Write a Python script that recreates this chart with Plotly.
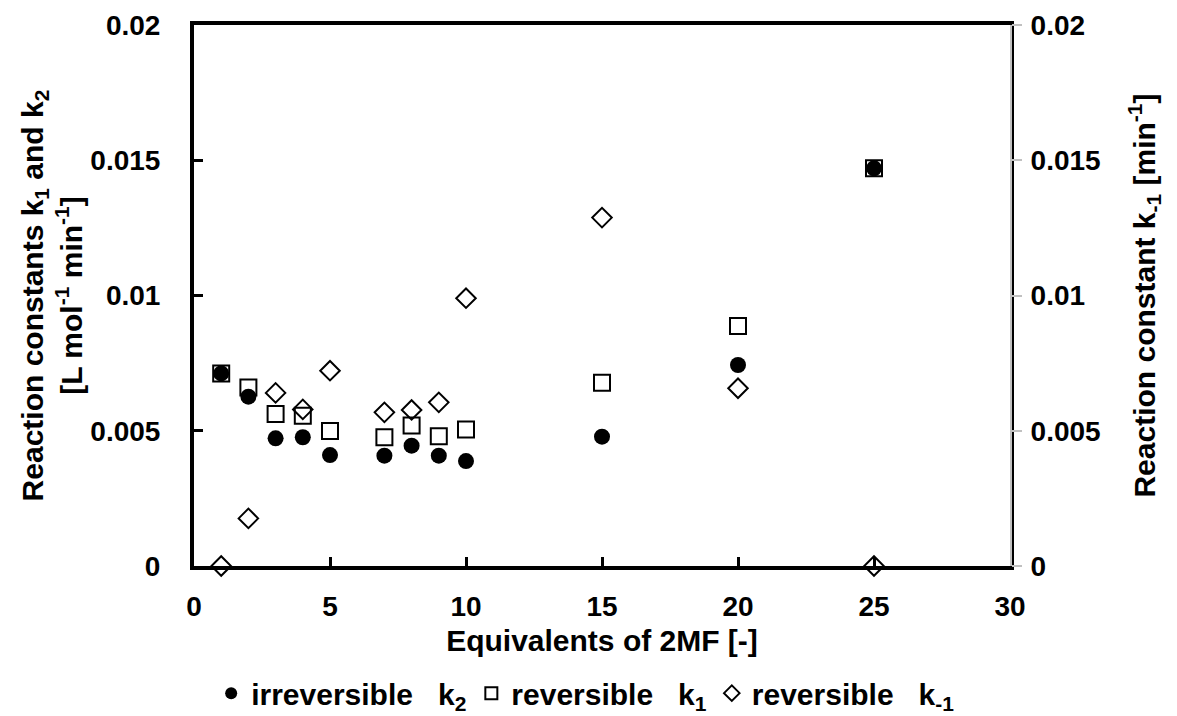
import plotly.graph_objects as go

# Equivalents of 2MF and fitted rate constants
equiv = [1, 2, 3, 4, 5, 7, 8, 9, 10, 15, 20, 25]
k2_irrev = [0.00712, 0.00626, 0.00472, 0.00476, 0.0041, 0.00408, 0.00445, 0.00408, 0.00388, 0.00478, 0.00743, 0.0147]
k1_rev = [0.00712, 0.0066, 0.00562, 0.00555, 0.00499, 0.00476, 0.00519, 0.0048, 0.00505, 0.00677, 0.00887, 0.0147]
km1_rev = [0.0, 0.00176, 0.0064, 0.00579, 0.00722, 0.00568, 0.00577, 0.00605, 0.0099, 0.01288, 0.00657, 0.0]

x_ticks = [0, 5, 10, 15, 20, 25, 30]
y_ticks = [0, 0.005, 0.01, 0.015, 0.02]
y_tick_text = ["0", "0.005", "0.01", "0.015", "0.02"]

FONT = "Liberation Sans, Arial, sans-serif"
NBSP = "\u00a0"
TICK_SIZE = 28
TITLE_SIZE = 30


def bold(s):
    return "<b>%s</b>" % s


fig = go.Figure()

# squares first so the filled circles sit on top of them
fig.add_trace(go.Scatter(
    x=equiv, y=k1_rev, mode="markers",
    name=bold("reversible" + NBSP * 3 + "k<sub>1</sub>"),
    marker=dict(symbol="square-open", size=16, color="black", line=dict(width=2, color="black")),
    legendrank=2, cliponaxis=False,
))
fig.add_trace(go.Scatter(
    x=equiv, y=k2_irrev, mode="markers",
    name=bold("irreversible" + NBSP * 3 + "k<sub>2</sub>"),
    marker=dict(symbol="circle", size=16, color="black"),
    legendrank=1, cliponaxis=False,
))
fig.add_trace(go.Scatter(
    x=equiv, y=km1_rev, mode="markers",
    name=bold("reversible" + NBSP * 3 + "k<sub>-1</sub>"),
    marker=dict(symbol="diamond-open", size=15, color="black", line=dict(width=2, color="black")),
    yaxis="y2", legendrank=3, cliponaxis=False,
))

fig.update_layout(
    width=1177, height=716,
    margin=dict(l=194, r=167, t=25, b=150, autoexpand=False),
    paper_bgcolor="white", plot_bgcolor="white",
    font=dict(family=FONT, size=TICK_SIZE, color="black"),
    showlegend=True,
    legend=dict(
        orientation="h", x=0.48, xanchor="center", y=-0.235, yanchor="middle",
        font=dict(family=FONT, size=30, color="black"),
        itemsizing="constant", traceorder="normal", itemwidth=30,
        bgcolor="rgba(0,0,0,0)",
    ),
    xaxis=dict(
        range=[0, 30], tickvals=x_ticks, ticktext=[bold(v) for v in x_ticks],
        ticks="inside", ticklen=9, tickwidth=3,
        tickcolor="black", showline=True, linewidth=4, linecolor="black", mirror=True,
        showgrid=False, zeroline=False, ticklabelstandoff=12,
        tickfont=dict(family=FONT, size=TICK_SIZE, color="black"),
        title=dict(text=bold("Equivalents of 2MF [-]"), standoff=10,
                   font=dict(family=FONT, size=TITLE_SIZE, color="black")),
    ),
    yaxis=dict(
        range=[0, 0.02], tickvals=y_ticks, ticktext=[bold(t) for t in y_tick_text],
        ticks="inside", ticklen=9, tickwidth=3, tickcolor="black",
        showline=True, linewidth=4, linecolor="black", mirror=True,
        showgrid=False, zeroline=False, ticklabelstandoff=24,
        tickfont=dict(family=FONT, size=TICK_SIZE, color="black"),
        title=dict(text=bold("Reaction constants k<sub>1</sub> and k<sub>2</sub><br>[L mol<sup>-1</sup> min<sup>-1</sup>]"),
                   standoff=0, font=dict(family=FONT, size=TITLE_SIZE, color="black")),
    ),
    yaxis2=dict(
        range=[0, 0.02], tickvals=y_ticks, ticktext=[bold(t) for t in y_tick_text],
        overlaying="y", side="right", ticks="outside", ticklen=10, tickwidth=2,
        tickcolor="#c0c0c0", showline=True, linewidth=2, linecolor="#c0c0c0",
        showgrid=False, zeroline=False, ticklabelstandoff=3,
        tickfont=dict(family=FONT, size=TICK_SIZE, color="black"),
        title=dict(text=bold("Reaction constant k<sub>-1</sub> [min<sup>-1</sup>]"),
                   standoff=34, font=dict(family=FONT, size=TITLE_SIZE, color="black")),
    ),
)

fig.write_html("out.html")
